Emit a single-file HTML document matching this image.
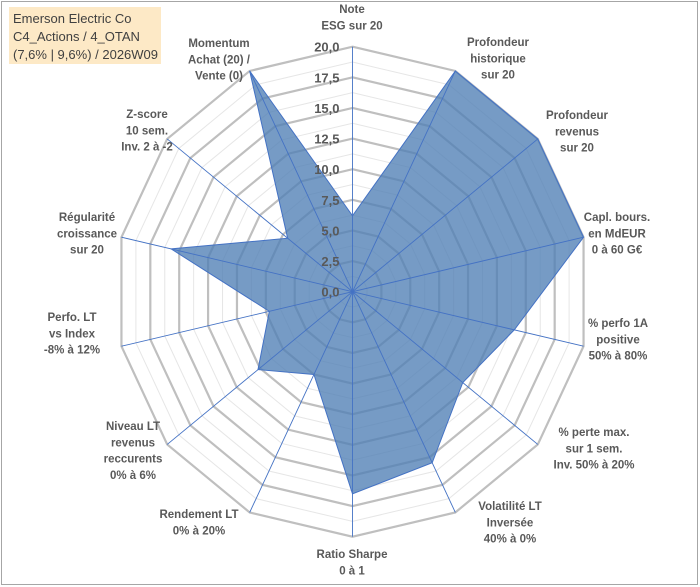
<!DOCTYPE html>
<html><head><meta charset="utf-8"><style>
body{margin:0;background:#fff;}
#wrap{position:relative;width:700px;height:587px;overflow:hidden;}
#frame{position:absolute;left:1px;top:1px;width:695px;height:582px;border:1px solid #a6a6a6;}
#title{position:absolute;left:9px;top:7px;width:152px;height:57px;background:#fde9c6;font:13px/18px "Liberation Sans",sans-serif;color:#404040;padding:3px 0 0 4px;box-sizing:border-box;}
svg{position:absolute;left:0;top:0;}
.lbl{font:bold 11.5px "Liberation Sans",sans-serif;fill:#595959;text-anchor:middle;}
.tick{font:bold 13px "Liberation Sans",sans-serif;fill:#595959;text-anchor:end;}
</style></head><body>
<div id="wrap">
<div id="frame"></div>
<div id="title">Emerson Electric Co<br>C4_Actions / 4_OTAN<br>(7,6% | 9,6%) / 2026W09</div>
<svg id="svg" width="700" height="587"></svg>
</div>
<script>
const categories=[
 ["Note","ESG sur 20"],
 ["Profondeur","historique","sur 20"],
 ["Profondeur","revenus","sur 20"],
 ["Capl. bours.","en MdEUR","0 à 60 G€"],
 ["% perfo 1A","positive","50% à 80%"],
 ["% perte max.","sur 1 sem.","Inv. 50% à 20%"],
 ["Volatilité LT","Inversée","40% à 0%"],
 ["Ratio Sharpe","0 à 1"],
 ["Rendement LT","0% à 20%"],
 ["Niveau LT","revenus","reccurents","0% à 6%"],
 ["Perfo. LT","vs Index","-8% à 12%"],
 ["Régularité","croissance","sur 20"],
 ["Z-score","10 sem.","Inv. 2 à -2"],
 ["Momentum","Achat (20) /","Vente (0)"]
];
const values=[6.2,20,20,20,14,11.9,15.5,16.5,7.5,10.2,7.2,15.7,7.0,20];
const tickLabels=["0,0","2,5","5,0","7,5","10,0","12,5","15,0","17,5","20,0"];
const labelPos=[[352,13],[498,46],[577,119],[617,221],[618,327],[594,436],[510,510],[352,558],[199,518],[133,430],[72,321],[87,221],[147,118],[219,47]];
const NS="http://www.w3.org/2000/svg";
const svg=document.getElementById('svg');
const cx=352.5,cy=291.7,RX=237,RY=245,MAX=20,N=categories.length;
function pt(i,v){const a=2*Math.PI*i/N;return [cx+Math.sin(a)*RX*v/MAX, cy-Math.cos(a)*RY*v/MAX];}
function mk(t,attrs){const e=document.createElementNS(NS,t);for(const k in attrs)e.setAttribute(k,attrs[k]);svg.appendChild(e);return e;}
for(let k=1;k<=16;k++){
 const v=k*1.25;const major=k%2===0;
 const p=[];for(let i=0;i<N;i++)p.push(pt(i,v).join(','));
 const g=mk('polygon',{points:p.join(' '),fill:'none',stroke:major?'#bfbfbf':'#e6e6e6','stroke-width':major?2.2:1});
 
 
}
const sp=values.map((v,i)=>pt(i,v).join(',')).join(' ');
const poly=mk('polygon',{points:sp,fill:'#4f7fb5','fill-opacity':0.78,stroke:'#4472c4','stroke-width':1});


for(let i=0;i<N;i++){
 const [x,y]=pt(i,MAX);
 const l=mk('line',{x1:cx,y1:cy,x2:x,y2:y,stroke:'#4472c4','stroke-width':0.9});
 
 
}
tickLabels.forEach((t,k)=>{
 const y=cy-RY*(k*2.5)/MAX;
 const e=mk('text',{x:cx-13,y:y+5,class:'tick'});e.textContent=t;
 
 
});
categories.forEach((lines,i)=>{
 const [x,y]=labelPos[i];
 const e=mk('text',{x:x,y:y,class:'lbl'});
 
 
 lines.forEach((s,j)=>{const ts=document.createElementNS(NS,'tspan');ts.setAttribute('x',x);ts.setAttribute('dy',j?16.3:0);ts.textContent=s;e.appendChild(ts);});
});
</script>
</body></html>
